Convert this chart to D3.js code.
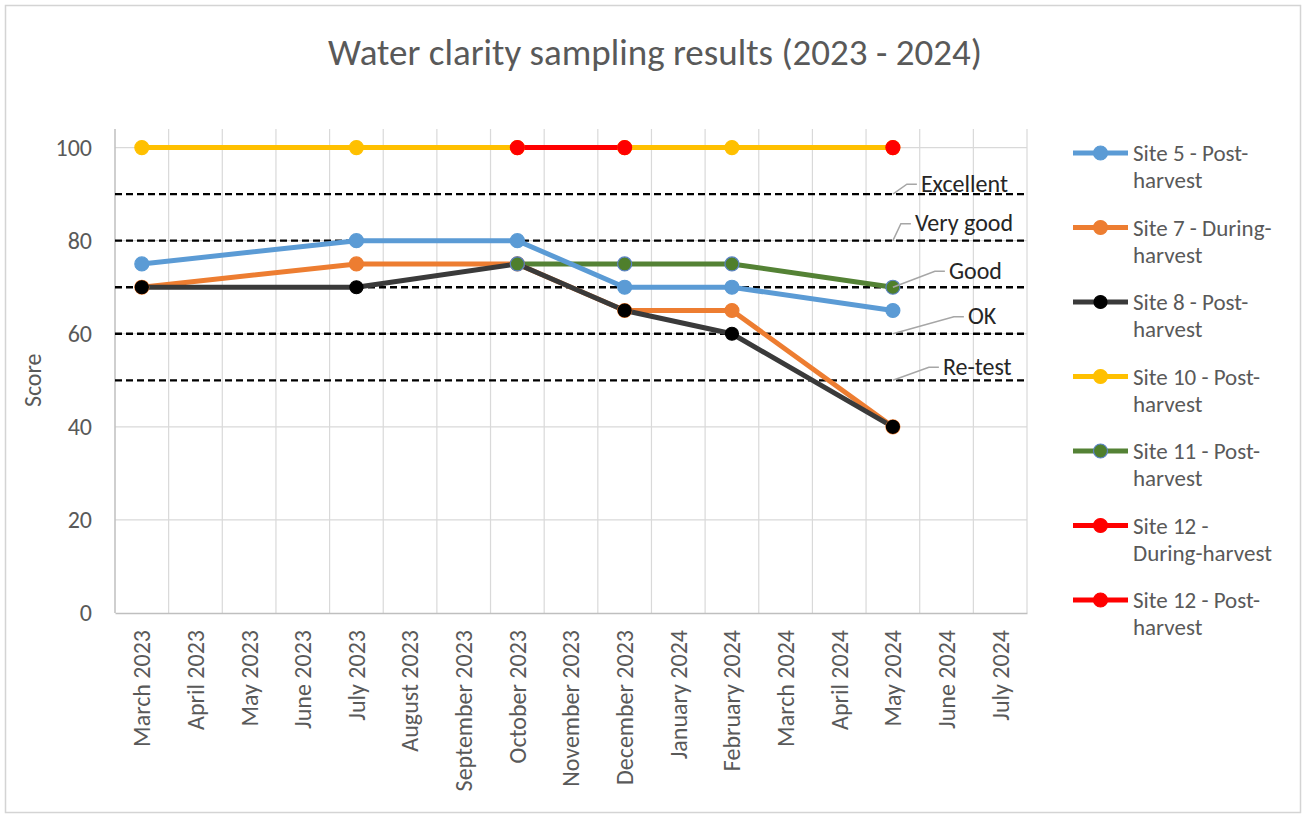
<!DOCTYPE html>
<html>
<head>
<meta charset="utf-8">
<script src="https://cdn.jsdelivr.net/npm/d3@7"></script>
<style>
  body { margin: 0; background: #fff; }
  svg text { font-family: Carlito, Calibri, Lato, sans-serif; }
</style>
</head>
<body>
<div id="chart"></div>
<script>
var width = 1307;
var height = 827;

// x categories (monthly date axis)
var months = ["March 2023", "April 2023", "May 2023", "June 2023", "July 2023",
  "August 2023", "September 2023", "October 2023", "November 2023", "December 2023",
  "January 2024", "February 2024", "March 2024", "April 2024", "May 2024",
  "June 2024", "July 2024"];

// months when samples were taken
var sampleMonths = ["March 2023", "July 2023", "October 2023", "December 2023", "February 2024", "May 2024"];

// scores per site, one value per sample month (null = not sampled)
var site5Post = [75, 80, 80, 70, 70, 65];
var site7During = [70, 75, 75, 65, 65, 40];
var site8Post = [70, 70, 75, 65, 60, 40];
var site10Post = [100, 100, 100, 100, 100, 100];
var site11Post = [null, null, 75, 75, 75, 70];
var site12During = [null, null, 100, 100, null, null];
var site12Post = [null, null, null, null, null, 100];

var seriesNames = ["Site 5 - Post-harvest", "Site 7 - During-harvest", "Site 8 - Post-harvest",
  "Site 10 - Post-harvest", "Site 11 - Post-harvest", "Site 12 - During-harvest", "Site 12 - Post-harvest"];
var legendLines = [["Site 5 - Post-", "harvest"], ["Site 7 - During-", "harvest"], ["Site 8 - Post-", "harvest"],
  ["Site 10 - Post-", "harvest"], ["Site 11 - Post-", "harvest"], ["Site 12 -", "During-harvest"], ["Site 12 - Post-", "harvest"]];

// quality thresholds
var thresholdValues = [90, 80, 70, 60, 50];
var thresholdLabels = ["Excellent", "Very good", "Good", "OK", "Re-test"];

var yTicks = [0, 20, 40, 60, 80, 100];

var series = [
  { name: seriesNames[0], values: site5Post, line: "#5B9BD5", marker: "#5B9BD5", edge: "#5B9BD5", r: 7 },
  { name: seriesNames[1], values: site7During, line: "#ED7D31", marker: "#ED7D31", edge: "#ED7D31", r: 7 },
  { name: seriesNames[2], values: site8Post, line: "#3a3a3a", marker: "#000000", edge: "#000000", r: 6.5 },
  { name: seriesNames[3], values: site10Post, line: "#FFC000", marker: "#FFC000", edge: "#FFC000", r: 7 },
  { name: seriesNames[4], values: site11Post, line: "#548235", marker: "#4f7f2c", edge: "#5b83c4", r: 7 },
  { name: seriesNames[5], values: site12During, line: "#FF0000", marker: "#FF0000", edge: "#FF0000", r: 7 },
  { name: seriesNames[6], values: site12Post, line: "#FF0000", marker: "#FF0000", edge: "#FF0000", r: 7 }
];
// line stacking order (green sits under the others)
var lineOrder = [3, 4, 0, 1, 2, 5, 6];

// callout text offsets from the May 2024 point of each threshold
var calloutOffsets = [[28, -11], [22, -18], [56, -17], [75, -18], [50, -14]];

var plot = { left: 115, right: 1027, top: 129, bottom: 613 };
var font = "Carlito, Calibri, Lato, sans-serif";

var svg = d3.select("#chart").append("svg")
    .attr("width", width)
    .attr("height", height);

// chart border
svg.append("rect")
    .attr("x", 5.5).attr("y", 5.5)
    .attr("width", 1295).attr("height", 807)
    .attr("fill", "#fff")
    .attr("stroke", "#d4d4d4")
    .attr("stroke-width", 1.5);

svg.append("text")
    .attr("x", 655)
    .attr("y", 65)
    .attr("text-anchor", "middle")
    .attr("fill", "#595959")
    .style("font-size", "37px")
    .text("Water clarity sampling results (2023 - 2024)");

var x = d3.scaleBand()
    .domain(months)
    .range([plot.left, plot.right])
    .padding(0);

var y = d3.scaleLinear()
    .domain([0, 104])
    .range([plot.bottom, plot.top]);

var cx = function(m) { return x(m) + x.bandwidth() / 2; };

// vertical gridlines at month boundaries
var bounds = months.slice(1).map(function(m) { return x(m); }).concat([plot.right]);
svg.append("g").selectAll("line")
    .data(bounds)
  .enter().append("line")
    .attr("x1", function(d) { return d; })
    .attr("x2", function(d) { return d; })
    .attr("y1", plot.top)
    .attr("y2", plot.bottom)
    .attr("stroke", "#d9d9d9")
    .attr("stroke-width", 1.2);

// horizontal gridlines
svg.append("g").selectAll("line")
    .data(yTicks.slice(1))
  .enter().append("line")
    .attr("x1", plot.left)
    .attr("x2", plot.right)
    .attr("y1", function(d) { return y(d); })
    .attr("y2", function(d) { return y(d); })
    .attr("stroke", "#d9d9d9")
    .attr("stroke-width", 1.2);

// y axis
var yAxis = svg.append("g")
    .attr("transform", "translate(" + plot.left + ",0)")
    .call(d3.axisLeft(y).tickValues(yTicks).tickSize(0).tickPadding(23));
yAxis.select(".domain").attr("stroke", "#bfbfbf").attr("stroke-width", 1.5)
    .attr("d", "M0," + plot.bottom + "V" + plot.top);
yAxis.selectAll("text")
    .attr("fill", "#595959")
    .style("font-size", "24px")
    .style("font-family", font);

// x axis
var xAxis = svg.append("g")
    .attr("transform", "translate(0," + plot.bottom + ")")
    .call(d3.axisBottom(x).tickSize(0).tickPadding(0));
xAxis.select(".domain").attr("stroke", "#bfbfbf").attr("stroke-width", 1.5);
xAxis.selectAll("text")
    .attr("fill", "#595959")
    .style("font-size", "24px")
    .style("font-family", font)
    .attr("text-anchor", "end")
    .attr("transform", "rotate(-90)")
    .attr("x", -17)
    .attr("y", 0)
    .attr("dy", "0.35em");

svg.append("text")
    .attr("transform", "translate(41," + y(50) + ") rotate(-90)")
    .attr("text-anchor", "middle")
    .attr("fill", "#595959")
    .style("font-size", "24px")
    .text("Score");

// threshold dashed lines
svg.append("g").selectAll("line")
    .data(thresholdValues)
  .enter().append("line")
    .attr("x1", plot.left)
    .attr("x2", plot.right)
    .attr("y1", function(d) { return y(d); })
    .attr("y2", function(d) { return y(d); })
    .attr("stroke", "#000")
    .attr("stroke-width", 2.3)
    .attr("stroke-dasharray", "7,4");

// build points
series.forEach(function(s) {
  s.points = sampleMonths.map(function(m, i) { return { month: m, value: s.values[i] }; })
    .filter(function(p) { return p.value != null; });
});

var line = d3.line()
    .x(function(d) { return cx(d.month); })
    .y(function(d) { return y(d.value); });

svg.append("g").selectAll("path")
    .data(lineOrder.map(function(i) { return series[i]; }))
  .enter().append("path")
    .attr("d", function(d) { return line(d.points); })
    .attr("fill", "none")
    .attr("stroke", function(d) { return d.line; })
    .attr("stroke-width", 5)
    .attr("stroke-linejoin", "round");

series.forEach(function(s) {
  svg.append("g").selectAll("circle")
      .data(s.points)
    .enter().append("circle")
      .attr("cx", function(d) { return cx(d.month); })
      .attr("cy", function(d) { return y(d.value); })
      .attr("r", s.r)
      .attr("fill", s.marker)
      .attr("stroke", s.edge)
      .attr("stroke-width", 1.2);
});

// callouts
var lastMonth = sampleMonths[sampleMonths.length - 1];
var callout = svg.append("g").selectAll("g")
    .data(thresholdLabels)
  .enter().append("g");

callout.append("path")
    .attr("d", function(d, i) {
      var x0 = cx(lastMonth), y0 = y(thresholdValues[i]);
      var tx = x0 + calloutOffsets[i][0], ty = y0 + calloutOffsets[i][1];
      return "M" + x0 + "," + y0 + "L" + (tx - 14) + "," + (ty + 1) + "L" + (tx - 4) + "," + (ty + 1);
    })
    .attr("fill", "none")
    .attr("stroke", "#a6a6a6")
    .attr("stroke-width", 1.5);

callout.append("text")
    .attr("x", function(d, i) { return cx(lastMonth) + calloutOffsets[i][0]; })
    .attr("y", function(d, i) { return y(thresholdValues[i]) + calloutOffsets[i][1]; })
    .attr("dy", "0.35em")
    .attr("fill", "#262626")
    .style("font-size", "24px")
    .text(function(d) { return d; });

// legend
var legend = svg.append("g").selectAll("g")
    .data(series)
  .enter().append("g")
    .attr("transform", function(d, i) { return "translate(1073," + (153 + i * 74.5) + ")"; });

legend.append("line")
    .attr("x1", 0).attr("x2", 55)
    .attr("stroke", function(d) { return d.line; })
    .attr("stroke-width", 5);

legend.append("circle")
    .attr("cx", 27.5)
    .attr("r", function(d) { return d.r; })
    .attr("fill", function(d) { return d.marker; })
    .attr("stroke", function(d) { return d.edge; })
    .attr("stroke-width", 1.2);

legend.append("text")
    .attr("fill", "#595959")
    .style("font-size", "23px")
    .selectAll("tspan")
    .data(function(d, i) { return legendLines[i]; })
  .enter().append("tspan")
    .attr("x", 60)
    .attr("y", function(d, i) { return i * 27; })
    .attr("dy", "0.35em")
    .text(function(d) { return d; });
</script>
</body>
</html>
